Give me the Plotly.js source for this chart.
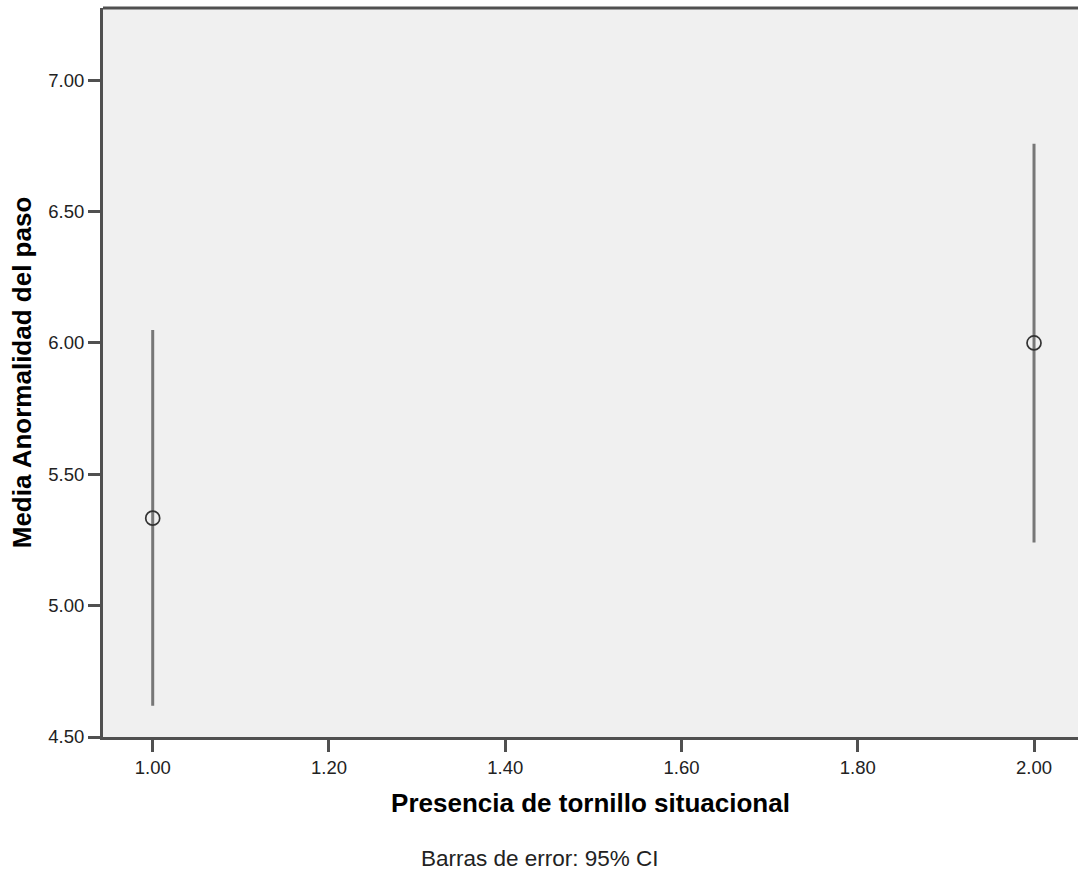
<!DOCTYPE html>
<html>
<head>
<meta charset="utf-8">
<script src="https://cdn.plot.ly/plotly-3.0.1.min.js"></script>
<style>html,body{margin:0;padding:0;background:#fff;}#chart{width:1078px;height:874px;}</style>
</head>
<body>
<div id="chart"></div>
<script>
// Data
var categories = [1, 2];
var means = [5.333, 6.0];
var ciLow = [4.619, 5.240];
var ciHigh = [6.049, 6.758];
var xTickVals = [1.0, 1.2, 1.4, 1.6, 1.8, 2.0];
var xTickText = ['1.00', '1.20', '1.40', '1.60', '1.80', '2.00'];
var yTickVals = [4.5, 5.0, 5.5, 6.0, 6.5, 7.0];
var yTickText = ['4.50', '5.00', '5.50', '6.00', '6.50', '7.00'];

var errPlus = ciHigh.map(function (h, i) { return h - means[i]; });
var errMinus = ciLow.map(function (l, i) { return means[i] - l; });

var trace = {
  type: 'scatter',
  mode: 'markers',
  x: categories,
  y: means,
  marker: { symbol: 'circle-open', size: 14, color: '#333333', line: { width: 1.7, color: '#333333' } },
  error_y: { type: 'data', symmetric: false, array: errPlus, arrayminus: errMinus,
             width: 0, thickness: 3, color: '#777777' },
  hoverinfo: 'x+y',
  showlegend: false
};

var axisColor = '#505050';
var layout = {
  width: 1078,
  height: 874,
  margin: { l: 103, r: 0, t: 8, b: 137 },
  paper_bgcolor: '#ffffff',
  plot_bgcolor: '#f0f0f0',
  font: { family: 'Liberation Sans, Arial, sans-serif', color: '#222222' },
  xaxis: {
    range: [0.9436, 2.0499],
    tickvals: xTickVals, ticktext: xTickText,
    ticks: 'outside', ticklen: 12, tickwidth: 3, tickcolor: axisColor,
    showline: true, linecolor: axisColor, linewidth: 3,
    showgrid: false, zeroline: false,
    tickfont: { size: 18.5, color: '#222222' },
    title: { text: 'Presencia de tornillo situacional', standoff: 17,
             font: { size: 26, color: '#000000', family: 'Liberation Sans, Arial, sans-serif', weight: 'bold' } },
    automargin: false
  },
  yaxis: {
    range: [4.5, 7.275],
    tickvals: yTickVals, ticktext: yTickText,
    ticks: 'outside', ticklen: 12, tickwidth: 3, tickcolor: axisColor,
    showline: true, linecolor: axisColor, linewidth: 3,
    showgrid: false, zeroline: false,
    tickfont: { size: 18.5, color: '#222222' },
    title: { text: 'Media Anormalidad del paso', standoff: 10,
             font: { size: 26, color: '#000000', family: 'Liberation Sans, Arial, sans-serif', weight: 'bold' } },
    automargin: false
  },
  shapes: [
    { type: 'line', xref: 'paper', yref: 'paper', x0: 0, x1: 1, y0: 1, y1: 1,
      line: { color: axisColor, width: 3 } }
  ],
  annotations: [
    { text: 'Barras de error: 95% CI', xref: 'paper', yref: 'paper',
      x: 0.448, y: -0.166, xanchor: 'center', yanchor: 'middle', showarrow: false,
      font: { size: 22.5, color: '#222222' } }
  ]
};

Plotly.newPlot('chart', [trace], layout, { displayModeBar: false, staticPlot: true });
</script>
</body>
</html>
